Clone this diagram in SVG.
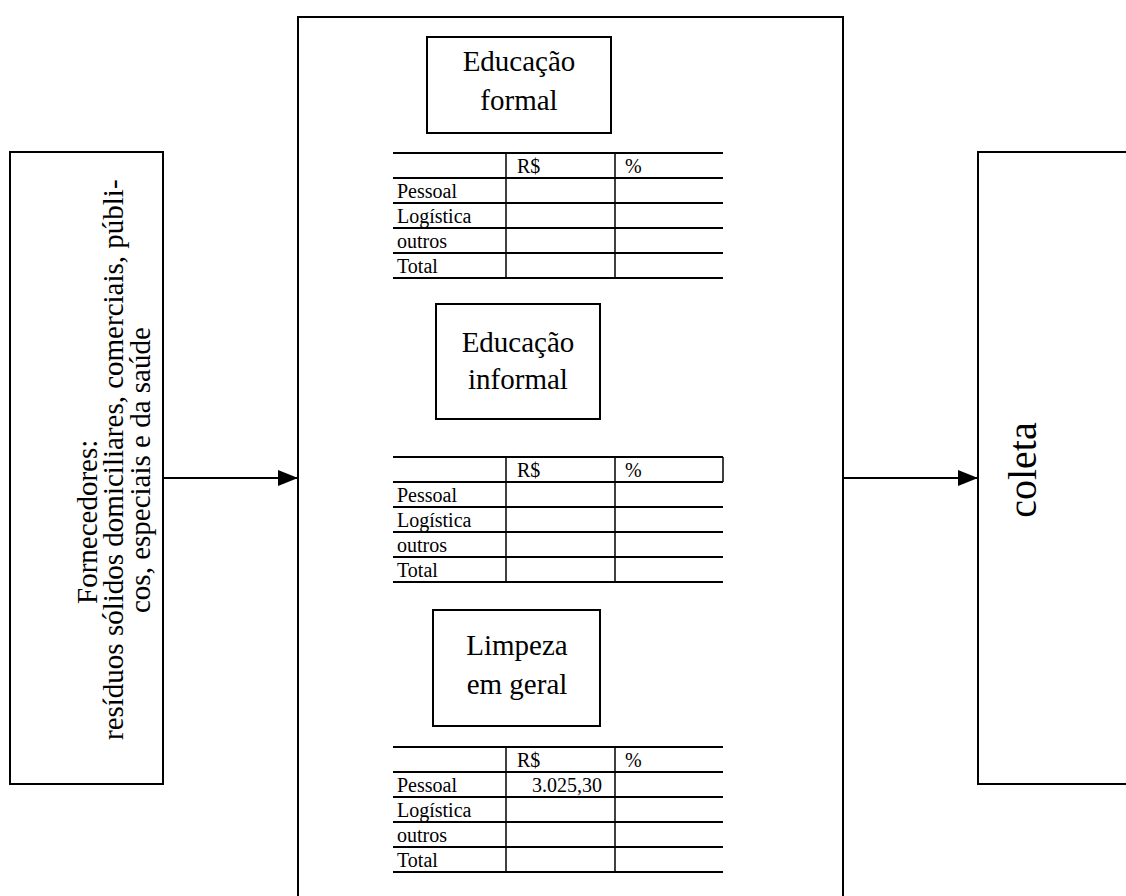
<svg xmlns="http://www.w3.org/2000/svg" width="1126" height="896" viewBox="0 0 1126 896">
  <style>
    .box { fill: #fff; stroke: #000; stroke-width: 2; }
    .t { font-family: "Liberation Serif", "Times New Roman", serif; fill: #000; }
    .big { font-size: 29px; }
    .cell { font-size: 20px; }
    .hl { stroke: #000; stroke-width: 2; }
    .vl { stroke: #000; stroke-width: 1.5; }
    .conn { stroke: #000; stroke-width: 1.8; fill: none; }
  </style>
  <defs>
    <marker id="arrow" markerWidth="20" markerHeight="16" refX="20" refY="8" orient="auto" markerUnits="userSpaceOnUse">
      <path d="M0,0 L20,8 L0,16 Z" fill="#000"/>
    </marker>
    <!-- cost table: 5 rows of 25px, label column + R$ + % -->
    <g id="costTable">
      <line class="hl" x1="393" y1="0" x2="723" y2="0"/>
      <line class="hl" x1="393" y1="25" x2="723" y2="25"/>
      <line class="hl" x1="393" y1="50" x2="723" y2="50"/>
      <line class="hl" x1="393" y1="75" x2="723" y2="75"/>
      <line class="hl" x1="393" y1="100" x2="723" y2="100"/>
      <line class="hl" x1="393" y1="125" x2="723" y2="125"/>
      <line class="vl" x1="506" y1="0" x2="506" y2="125"/>
      <line class="vl" x1="615" y1="0" x2="615" y2="125"/>
      <text class="t cell" x="517" y="20">R$</text>
      <text class="t cell" x="625" y="20">%</text>
      <text class="t cell" x="397" y="45">Pessoal</text>
      <text class="t cell" x="397" y="70">Logística</text>
      <text class="t cell" x="397" y="95">outros</text>
      <text class="t cell" x="397" y="120">Total</text>
    </g>
  </defs>

  <rect width="1126" height="896" fill="#fff"/>

  <!-- suppliers -->
  <g id="fornecedores">
    <rect class="box" x="10" y="152" width="153" height="632"/>
    <text class="t big" transform="translate(97,604) rotate(-90)">Fornecedores:</text>
    <text class="t big" transform="translate(123,740) rotate(-90)">resíduos sólidos domiciliares, comerciais, públi-</text>
    <text class="t big" transform="translate(150,613) rotate(-90)">cos, especiais e da saúde</text>
  </g>

  <!-- central process -->
  <g id="processo">
    <rect class="box" x="298" y="17" width="545" height="900"/>
  </g>

  <g id="educacao-formal">
    <rect class="box" x="427" y="37" width="184" height="96"/>
    <text class="t big" x="519" y="71" text-anchor="middle">Educação</text>
    <text class="t big" x="519" y="110" text-anchor="middle">formal</text>
  </g>
  <g id="tabela-formal">
    <use href="#costTable" y="153"/>
  </g>

  <g id="educacao-informal">
    <rect class="box" x="436" y="304" width="164" height="115"/>
    <text class="t big" x="518" y="352" text-anchor="middle">Educação</text>
    <text class="t big" x="518" y="389" text-anchor="middle">informal</text>
  </g>
  <g id="tabela-informal">
    <use href="#costTable" y="457"/>
    <line class="vl" x1="723" y1="457" x2="723" y2="482"/>
  </g>

  <g id="limpeza">
    <rect class="box" x="433" y="610" width="167" height="116"/>
    <text class="t big" x="517" y="655" text-anchor="middle">Limpeza</text>
    <text class="t big" x="517" y="694" text-anchor="middle">em geral</text>
  </g>
  <g id="tabela-limpeza">
    <use href="#costTable" y="747"/>
    <text class="t cell" x="602" y="792" text-anchor="end">3.025,30</text>
  </g>

  <!-- collection -->
  <g id="coleta">
    <rect class="box" x="978" y="152" width="170" height="632"/>
    <text class="t" font-size="40" text-anchor="middle" transform="translate(1036,470) rotate(-90)">coleta</text>
  </g>

  <!-- flow arrows -->
  <g id="connectors">
    <line class="conn" x1="163" y1="478" x2="298" y2="478" marker-end="url(#arrow)"/>
    <line class="conn" x1="843" y1="478" x2="978" y2="478" marker-end="url(#arrow)"/>
  </g>
</svg>
